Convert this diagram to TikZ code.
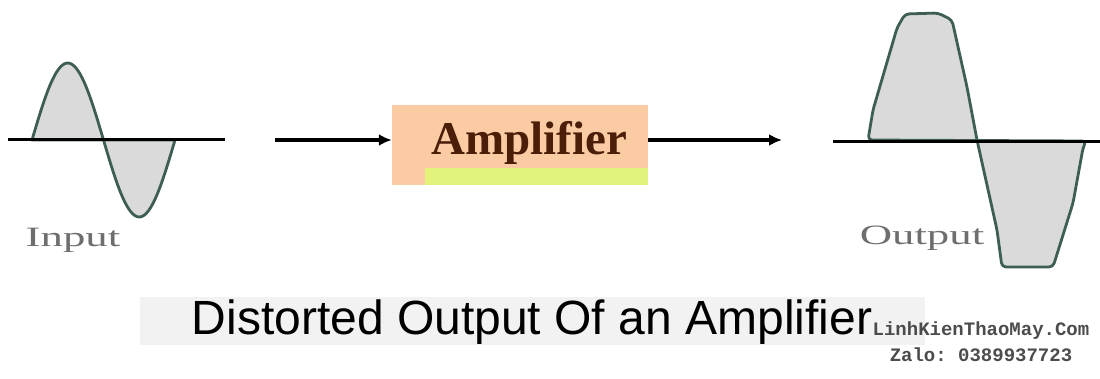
\documentclass[tikz,border=0pt]{standalone}
\usepackage{fontspec}
\setmainfont{Liberation Serif}
\setsansfont{Liberation Sans}
\setmonofont{Liberation Mono}
\usetikzlibrary{arrows.meta}
\definecolor{wavefill}{HTML}{DADADA}
\definecolor{wavestroke}{HTML}{3E5E55}
\definecolor{ampfill}{HTML}{FBCBA3}
\definecolor{ampstrip}{HTML}{E2F27A}
\definecolor{amptext}{HTML}{4A1E08}
\definecolor{labelgray}{HTML}{6E6E6E}
\tikzset{
  axisline/.style={line width=3pt, black},
  wave/.style={line width=2.8pt, draw=wavestroke, fill=wavefill, line join=round},
  conn/.style={line width=3.2pt, black, -{Latex[length=13pt,width=12pt]}},
  ampbox/.style={draw=none, fill=ampfill, minimum width=256pt, minimum height=80pt, inner sep=0pt},
  wavelabel/.style={text=labelgray, font=\fontsize{28}{30}\selectfont, inner sep=0pt, xscale=1.6},
  titletext/.style={font=\sffamily\fontsize{48}{52}\selectfont, inner sep=0pt},
  wmtext/.style={font=\ttfamily\bfseries\fontsize{19}{21}\selectfont, inner sep=0pt}
}
\begin{document}
\begin{tikzpicture}[x=1pt,y=-1pt]
\useasboundingbox (0,0) rectangle (1100,378);
\fill[white] (0,0) rectangle (1100,378);
% input wave
\draw[wave] plot[domain=0:360, samples=72, smooth] ({32+\x/360*143},{140-77*sin(\x)}) -- cycle;
\draw[axisline] (8,139) -- (225,139);
\node[wavelabel] (inlabel) at (73,240) {Input};
% amplifier
\node[ampbox] (amp) at (520,145) {};
\fill[ampstrip] (425,168) rectangle (648,185);
\node[font=\bfseries\fontsize{47}{50}\selectfont, text=amptext, inner sep=0pt] (amptxt) at (529,143) {Amplifier};
\coordinate (a1s) at (275,140);
\coordinate (a2e) at (782,140);
\draw[conn] (a1s) -- (a1s -| amp.west);
\draw[conn] (a2e -| amp.east) -- (a2e);
% output wave
\draw[wave, rounded corners=4pt] (868,140) -- (873,110) -- (897,28) -- (905,14) -- (938,13) -- (952,20) -- (967,87) -- (977,140) -- (997,230) -- (1002,267) -- (1053,267) -- (1073,203) -- (1083,148) -- (1086,141) -- cycle;
\draw[axisline] (833,141) -- (1100,141);
\node[wavelabel] (outlabel) at (922,238) {Output};
% title
\fill[gray!10] (140,297) rectangle (925,345);
\node[titletext] (title) at (532,322) {Distorted Output Of an Amplifier};
% watermark
\node[wmtext, text=black!70] (wm1) at (981,331) {LinhKienThaoMay.Com};
\node[wmtext, text=black!70] (wm2) at (981,355) {Zalo: 0389937723};
\end{tikzpicture}
\end{document}
